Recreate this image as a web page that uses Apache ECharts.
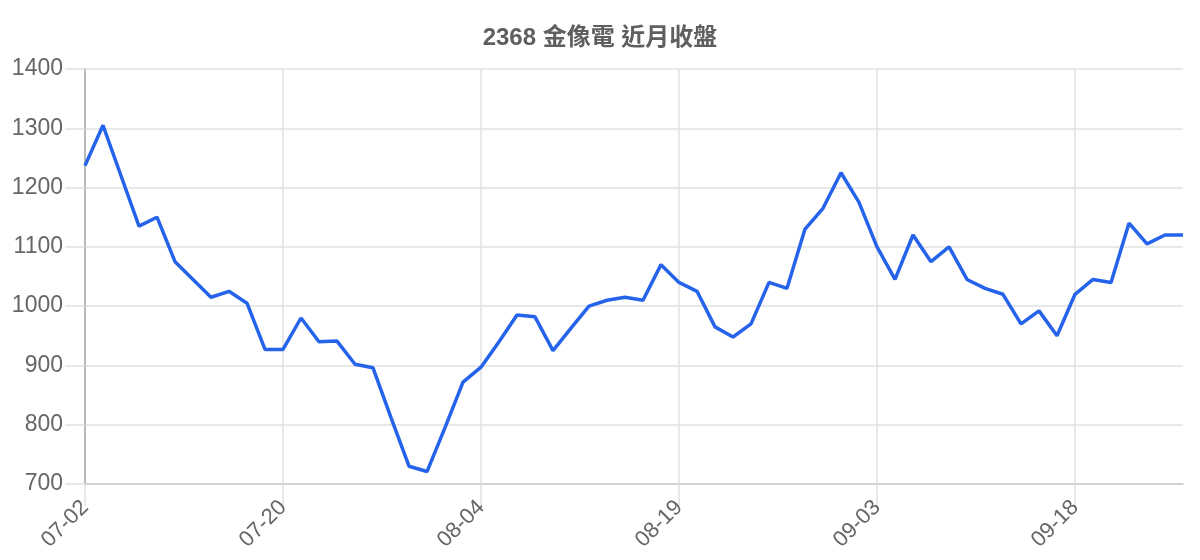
<!DOCTYPE html>
<html>
<head>
<meta charset="utf-8">
<script src="https://cdn.jsdelivr.net/npm/echarts@6/dist/echarts.min.js"></script>
<style>
html,body{margin:0;padding:0;background:#fff;}
#chart{width:1200px;height:560px;}
</style>
</head>
<body>
<div id="chart"></div>
<script>
const titleText = '2368 金像電 近月收盤';
const dates = [
  '07-02','07-03','07-04','07-07','07-08','07-09','07-10','07-11','07-14','07-15','07-17',
  '07-20','07-21','07-22','07-23','07-24','07-25','07-28','07-29','07-30','07-31','08-01',
  '08-04','08-05','08-06','08-07','08-08','08-11','08-12','08-13','08-14','08-15','08-18',
  '08-19','08-20','08-21','08-22','08-25','08-26','08-27','08-28','08-29','09-01','09-02',
  '09-03','09-04','09-05','09-08','09-09','09-10','09-11','09-12','09-15','09-16','09-17',
  '09-18','09-19','09-22','09-23','09-24','09-25','09-26'
];
const closePrices = [
  1237,1305,1220,1135,1150,1075,1045,1015,1025,1005,927,
  927,980,940,941,902,896,812,730,721,795,872,
  897,940,985,982,925,963,1000,1010,1015,1010,1070,
  1040,1025,965,948,970,1040,1030,1130,1165,1225,1175,
  1100,1045,1120,1075,1100,1045,1030,1020,970,992,950,
  1020,1045,1040,1140,1105,1120,1120
];
const yMin = 700, yMax = 1400, yStep = 100;

const chart = echarts.init(document.getElementById('chart'));
chart.setOption({
  animation: false,
  backgroundColor: '#ffffff',
  title: {
    text: titleText,
    left: 'center',
    top: 21,
    textStyle: {
      fontFamily: "'Liberation Sans', 'Noto Sans CJK TC', sans-serif",
      fontSize: 24,
      fontWeight: 'bold',
      color: '#5f5f5f'
    }
  },
  grid: { left: 85, right: 17, top: 69, bottom: 76, containLabel: false },
  xAxis: {
    type: 'category',
    data: dates,
    boundaryGap: false,
    axisLine: { show: true, lineStyle: { color: '#cccccc', width: 1.5 } },
    axisTick: { show: true, interval: 10, length: 22, lineStyle: { color: '#e0e0e0', width: 1.5 } },
    splitLine: { show: true, interval: 10, lineStyle: { color: '#e0e0e0', width: 1.5 } },
    axisLabel: {
      interval: 10, rotate: 45, margin: 20,
      fontFamily: "'Liberation Sans', Arial, sans-serif",
      fontSize: 22, color: '#666666'
    }
  },
  yAxis: {
    type: 'value',
    min: yMin, max: yMax, interval: yStep,
    axisLine: { show: true, lineStyle: { color: '#aaaaaa', width: 1.5 } },
    axisTick: { show: true, length: 20, lineStyle: { color: '#e0e0e0', width: 1.5 } },
    splitLine: { show: true, lineStyle: { color: '#e0e0e0', width: 1.5 } },
    axisLabel: {
      margin: 22,
      formatter: function (v) { return String(v); },
      fontFamily: "'Liberation Sans', Arial, sans-serif",
      fontSize: 23, color: '#666666'
    }
  },
  series: [{
    type: 'line',
    data: closePrices,
    showSymbol: false,
    symbol: 'none',
    lineStyle: { color: '#2563eb', width: 3.5 },
    itemStyle: { color: '#2563eb' }
  }]
});
</script>
</body>
</html>
